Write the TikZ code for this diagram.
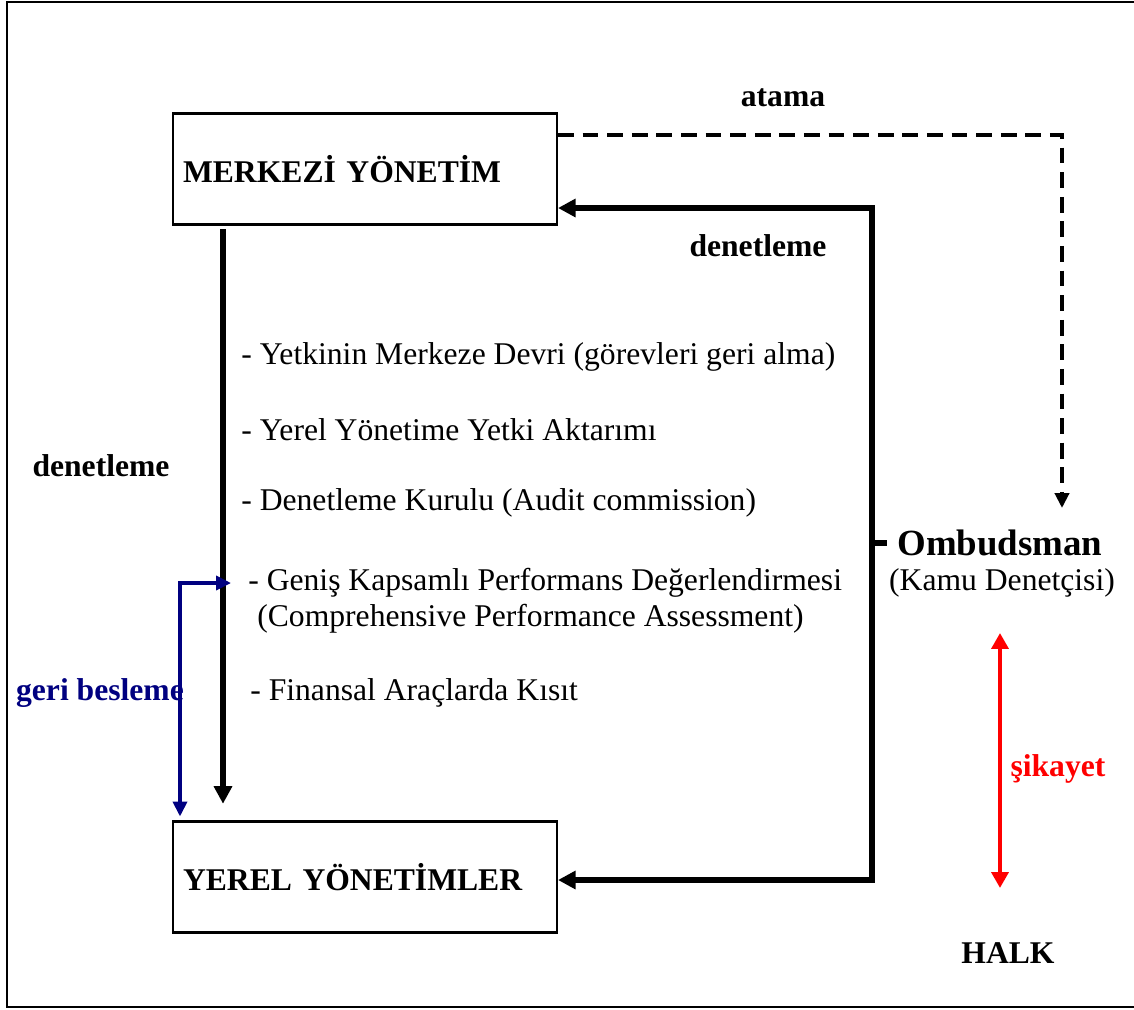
\documentclass[tikz,border=0pt]{standalone}
\usepackage{fontspec}
\setmainfont{Liberation Serif}
\usetikzlibrary{
  arrows.meta,
  positioning
}

\begin{document}
\begin{tikzpicture}[
  x=0.02cm, y=-0.02cm,
  every node/.style = {font=\fontsize{18}{21}\selectfont, inner sep=0pt},
  kutu/.style = {draw, line width=1.2pt, minimum width=7.68cm, minimum height=2.22cm,
    text width=7.28cm, align=left, font=\fontsize{18}{21}\selectfont\bfseries},
  madde/.style = {anchor=west},
  baslik/.style = {font=\fontsize{18}{21}\selectfont\bfseries},
  kalin/.style = {line width=3.4pt, -{Triangle[length=10pt,width=10pt]}},
  kesik/.style = {line width=2.2pt, dash pattern=on 9pt off 5pt,
    -{Triangle[length=8.5pt,width=8pt]}},
  mavi/.style = {draw=blue!50!black, line width=2pt,
    {Triangle[length=8.5pt,width=8pt]}-{Triangle[length=8.5pt,width=8pt]}},
  kirmizi/.style = {draw=red, line width=2.4pt,
    {Triangle[length=9pt,width=9.5pt]}-{Triangle[length=9pt,width=9.5pt]}}]
  \useasboundingbox (0,0) rectangle (1134,1009);
  \draw[line width=1.6pt] (7,2) rectangle (1140,1007);

  % kutular
  \node[kutu] (merkez) at (365,169) {MERKEZİ YÖNETİM};
  \node[kutu] (yerel) at (365,877) {YEREL YÖNETİMLER};

  % maddeler
  \node[madde] (m1) at (241,357) {- Yetkinin Merkeze Devri (görevleri geri alma)};
  \node[madde] (m2) at (241,430) {- Yerel Yönetime Yetki Aktarımı};
  \node[madde] (m3) at (241,503) {- Denetleme Kurulu (Audit commission)};
  \node[madde] (m4) at (248,583) {- Geniş Kapsamlı Performans Değerlendirmesi};
  \node[madde] (m4b) at (257,619) {(Comprehensive Performance Assessment)};
  \node[madde] (m5) at (250,693) {- Finansal Araçlarda Kısıt};

  % etiketler
  \node[baslik] (atama) at (783,98) {atama};
  \node[baslik] (den1) at (758,246) {denetleme};
  \node[baslik] (den2) at (101,466) {denetleme};
  \node[baslik, text=blue!50!black] (geri) at (100,693) {geri besleme};
  \node[font=\fontsize{21}{24}\selectfont\bfseries] (omb) at (1000,543) {Ombudsman};
  \node (kamu) at (1002,583) {(Kamu Denetçisi)};
  \node[baslik, text=red] (sik) at (1058,769) {şikayet};
  \node[baslik] (halk) at (1008,953) {HALK};

  \coordinate (sol) at (223,0);
  \coordinate (sagust) at (872,208);
  \coordinate (sagalt) at (872,880);
  \coordinate (kose) at (1062,135);
  \coordinate (ucu) at (1062,508);
  \coordinate (gb) at (231,583);
  \coordinate (s1) at (1000,633);
  \coordinate (s2) at (1000,888);

  \draw[kalin, shorten <=2pt, shorten >=9.5pt] (sol |- merkez.south) -- (sol |- yerel.north);
  \draw[kalin, {Triangle[length=10pt,width=10pt]}-{Triangle[length=10pt,width=10pt]}]
    (sagust -| merkez.east) -- (sagust) -- (sagalt) -- (sagalt -| yerel.east);
  \draw[line width=3.4pt] (sagust |- omb.west) -- ++(15,0);
  \draw[kesik] (merkez.east |- kose) -- (kose) -- (ucu);
  \draw[mavi, shorten >=2pt] (gb) -- (180,583) -- (180,820);
  \draw[kirmizi] (s1) -- (s2);
\end{tikzpicture}
\end{document}
